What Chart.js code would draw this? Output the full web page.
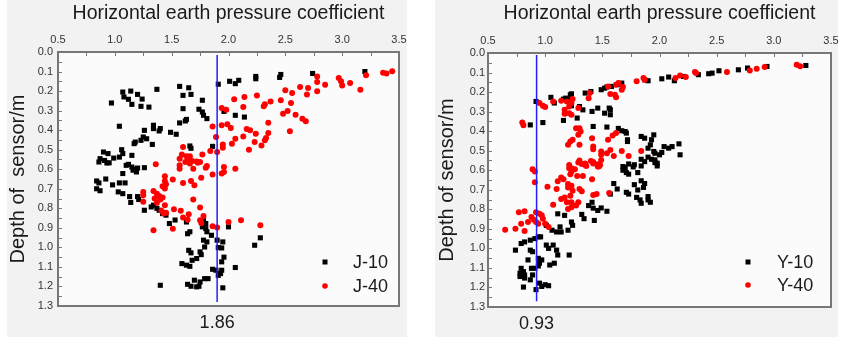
<!DOCTYPE html>
<html>
<head>
<meta charset="utf-8">
<title>Horizontal earth pressure coefficient</title>
<script src="https://cdn.jsdelivr.net/npm/chart.js@4.4.1/dist/chart.umd.min.js"></script>
<style>
  body { margin: 0; background: #fff; width: 850px; height: 337px; position: relative; overflow: hidden; }
  .panel { position: absolute; top: 0; height: 337px; background: #f2f2f2; }
  canvas { position: absolute; top: 0; }
</style>
</head>
<body>
<div class="panel" style="left:7px;width:400px"></div>
<div class="panel" style="left:435px;width:403px"></div>
<canvas id="chartJ" width="425" height="337" style="left:0"></canvas>
<canvas id="chartY" width="425" height="337" style="left:425px"></canvas>
<script>
// axis ticks
const coefTicks = [0.5, 1.0, 1.5, 2.0, 2.5, 3.0, 3.5];
const coefLabels = ["0.5", "1.0", "1.5", "2.0", "2.5", "3.0", "3.5"];
const depthTicks = [0.0, 0.1, 0.2, 0.3, 0.4, 0.5, 0.6, 0.7, 0.8, 0.9, 1.0, 1.1, 1.2, 1.3];
const depthLabels = ["0.0", "0.1", "0.2", "0.3", "0.4", "0.5", "0.6", "0.7", "0.8", "0.9", "1.0", "1.1", "1.2", "1.3"];

// [coefficient, depth]
const j10 = [
  [3.20,0.10],[2.74,0.11],[2.46,0.115],[2.45,0.13],[2.24,0.125],[2.24,0.137],[2.09,0.145],[2.06,0.162],[2.01,0.15],
  [1.91,0.165],[1.57,0.176],[1.65,0.183],[1.60,0.222],[1.67,0.217],[1.37,0.191],[1.07,0.205],[1.14,0.20],[1.20,0.217],
  [1.08,0.23],[1.12,0.242],[1.15,0.268],[1.24,0.241],[1.23,0.278],[1.30,0.282],[0.97,0.261],[1.77,0.247],[1.60,0.29],
  [1.74,0.293],[1.77,0.307],[1.78,0.324],[1.81,0.341],[1.63,0.345],[1.62,0.353],[1.57,0.363],[1.96,0.304],[2.06,0.324],
  [2.14,0.333],[1.04,0.38],[1.34,0.375],[1.34,0.392],[1.39,0.404],[1.40,0.392],[1.26,0.401],[1.25,0.435],[1.23,0.452],
  [1.18,0.461],[1.17,0.469],[1.28,0.444],[1.33,0.473],[1.49,0.411],[1.54,0.421],[1.66,0.481],[1.67,0.493],[1.86,0.483],
  [0.90,0.512],[0.94,0.52],[1.06,0.50],[1.07,0.52],[1.04,0.538],[1.15,0.529],[0.87,0.546],[0.91,0.555],[0.95,0.567],
  [0.99,0.543],[1.12,0.575],[1.15,0.589],[1.18,0.601],[1.20,0.594],[0.86,0.563],[0.93,0.568],[1.10,0.58],[1.16,0.605],
  [1.19,0.614],[1.26,0.592],[1.07,0.622],[0.84,0.66],[0.86,0.67],[0.92,0.65],[0.84,0.70],[0.87,0.71],[0.98,0.68],
  [1.04,0.67],[1.09,0.67],[1.03,0.716],[1.07,0.725],[1.13,0.74],[1.14,0.77],[1.20,0.74],[1.21,0.755],[1.26,0.81],
  [1.32,0.793],[1.34,0.784],[1.37,0.80],[1.39,0.81],[1.42,0.827],[1.45,0.835],[1.48,0.878],[1.53,0.86],[1.63,0.87],
  [1.66,0.92],[1.64,0.93],[1.78,0.861],[1.80,0.878],[1.77,0.895],[1.80,0.904],[1.81,0.92],[1.78,0.963],[1.81,0.972],
  [1.79,0.998],[1.85,0.938],[1.90,0.963],[1.91,1.001],[1.95,0.972],[1.94,1.003],[1.65,1.015],[1.67,1.028],[1.75,1.023],
  [1.76,1.037],[1.72,1.057],[1.68,1.066],[1.63,1.091],[1.66,1.097],[1.59,1.083],[1.96,1.05],[1.94,1.074],[1.86,1.112],
  [1.89,1.117],[1.94,1.117],[1.91,1.143],[1.93,1.134],[1.79,1.16],[1.82,1.16],[1.75,1.177],[1.70,1.168],[1.64,1.189],
  [1.67,1.199],[1.72,1.202],[1.74,1.199],[1.40,1.194],[1.95,1.207],[2.00,0.895],[2.06,1.103],[2.28,0.951],[2.23,0.989]
];
const j40 = [
  [3.44,0.099],[3.39,0.11],[3.36,0.106],[3.21,0.119],[3.16,0.193],[3.07,0.159],[2.97,0.133],[2.99,0.15],[3.00,0.171],
  [2.85,0.167],[2.78,0.125],[2.78,0.154],[2.78,0.201],[2.70,0.184],[2.69,0.217],[2.63,0.179],[2.56,0.21],[2.50,0.196],
  [2.55,0.261],[2.46,0.247],[2.37,0.253],[2.32,0.268],[2.31,0.278],[2.25,0.222],[2.48,0.316],[2.52,0.302],[2.59,0.321],
  [2.65,0.341],[2.68,0.355],[2.54,0.406],[2.35,0.362],[2.14,0.23],[2.05,0.242],[2.13,0.282],[1.94,0.287],[1.98,0.295],
  [1.94,0.375],[1.99,0.37],[2.02,0.389],[1.86,0.381],[2.16,0.394],[2.19,0.401],[2.06,0.444],[2.03,0.469],[2.13,0.432],
  [2.24,0.418],[2.23,0.461],[2.29,0.478],[2.32,0.452],[2.33,0.44],[2.35,0.415],[2.18,0.50],[1.89,0.435],[1.95,0.473],
  [1.95,0.49],[1.90,0.512],[1.84,0.507],[1.77,0.524],[1.60,0.486],[1.59,0.524],[1.57,0.546],[1.63,0.534],[1.65,0.546],
  [1.66,0.534],[1.68,0.558],[1.73,0.567],[1.75,0.563],[1.81,0.584],[1.57,0.58],[1.36,0.575],[1.96,0.589],[2.06,0.597],
  [1.62,0.563],[1.66,0.571],[1.69,0.597],[1.72,0.56],[1.57,0.597],[1.80,0.592],[1.86,0.627],[1.94,0.622],[1.96,0.614],
  [1.76,0.644],[1.67,0.66],[1.60,0.67],[1.70,0.682],[1.44,0.636],[1.51,0.653],[1.44,0.66],[1.42,0.687],[1.44,0.699],
  [1.45,0.677],[1.25,0.716],[1.25,0.733],[1.34,0.711],[1.37,0.725],[1.39,0.737],[1.35,0.75],[1.37,0.771],[1.40,0.755],
  [1.42,0.745],[1.25,0.767],[1.69,0.755],[1.44,0.784],[1.41,0.813],[1.43,0.827],[1.45,0.823],[1.52,0.805],[1.58,0.813],
  [1.65,0.83],[1.75,0.796],[1.60,0.847],[1.64,0.858],[1.51,0.904],[1.34,0.912],[1.75,0.861],[1.76,0.875],[1.78,0.84],
  [1.86,0.892],[1.90,0.898],[2.00,0.87],[2.11,0.861],[2.28,0.887]
];
const y10 = [
  [3.28,0.064],[2.94,0.069],[2.77,0.077],[2.69,0.086],[2.52,0.091],[2.46,0.103],[2.43,0.106],[2.34,0.111],[2.21,0.12],
  [2.13,0.142],[2.08,0.123],[2.02,0.132],[1.90,0.142],[1.87,0.137],[1.67,0.154],[1.63,0.162],[1.58,0.171],[1.54,0.174],
  [1.49,0.188],[1.52,0.18],[1.40,0.197],[1.35,0.205],[1.22,0.214],[1.23,0.209],[1.20,0.239],[1.18,0.231],[1.16,0.236],
  [1.05,0.227],[1.08,0.256],[0.92,0.248],[1.23,0.27],[1.30,0.274],[1.33,0.291],[1.41,0.299],[1.46,0.282],[1.52,0.308],
  [1.57,0.316],[1.57,0.29],[1.56,0.282],[1.28,0.333],[1.16,0.345],[0.98,0.356],[0.87,0.368],[1.42,0.376],[1.54,0.379],
  [1.64,0.386],[1.67,0.398],[1.70,0.402],[1.71,0.41],[1.72,0.444],[1.72,0.453],[1.84,0.427],[1.87,0.436],[1.95,0.419],
  [1.93,0.444],[1.90,0.487],[1.92,0.47],[2.04,0.479],[2.08,0.487],[2.11,0.479],[2.17,0.465],[2.18,0.521],[2.02,0.509],
  [2.00,0.521],[1.96,0.513],[1.90,0.533],[1.93,0.544],[1.96,0.547],[1.98,0.564],[1.84,0.544],[1.87,0.556],[1.95,0.504],
  [1.73,0.568],[1.68,0.581],[1.78,0.572],[1.96,0.561],[1.98,0.578],[1.70,0.586],[1.71,0.612],[1.68,0.60],[1.73,0.62],
  [1.77,0.583],[1.81,0.612],[1.84,0.578],[1.84,0.654],[1.87,0.668],[1.86,0.688],[1.78,0.674],[1.81,0.701],[1.71,0.713],
  [1.73,0.722],[1.80,0.739],[1.83,0.752],[1.84,0.769],[1.90,0.735],[1.92,0.764],[1.90,0.752],[1.60,0.668],[1.63,0.696],
  [1.57,0.722],[1.38,0.781],[1.42,0.794],[1.46,0.806],[1.49,0.793],[1.54,0.81],[1.41,0.764],[1.32,0.826],[1.34,0.848],
  [1.43,0.857],[1.23,0.865],[1.24,0.882],[1.20,0.907],[1.11,0.823],[1.17,0.831],[1.13,0.89],[1.14,0.916],[1.10,0.916],
  [1.06,0.907],[1.01,0.882],[0.96,0.941],[0.87,0.958],[0.91,0.95],[0.82,0.967],[0.79,0.975],[0.94,0.941],[0.74,1.009],
  [0.87,1.009],[0.89,1.017],[1.01,0.983],[1.03,1.0],[1.07,0.983],[1.10,1.009],[1.11,1.034],[1.21,1.034],[0.85,1.059],
  [0.94,1.051],[0.97,1.059],[0.95,1.076],[0.94,1.09],[1.04,1.085],[1.08,1.076],[0.79,1.102],[0.81,1.119],[0.78,1.127],
  [0.82,1.136],[0.88,1.102],[0.78,1.144],[0.82,1.152],[0.89,1.136],[0.87,1.161],[0.81,1.198],[0.95,1.178],[0.97,1.195],
  [1.00,1.186],[1.03,1.191],[0.92,1.211],[0.91,1.102]
];
const y40 = [
  [3.20,0.06],[3.23,0.068],[2.92,0.072],[2.85,0.08],[2.79,0.089],[2.59,0.097],[2.32,0.103],[2.31,0.097],[2.23,0.123],
  [2.18,0.115],[2.14,0.128],[1.87,0.137],[1.86,0.128],[1.80,0.145],[1.64,0.154],[1.68,0.174],[1.67,0.188],[1.62,0.162],
  [1.61,0.214],[1.62,0.226],[1.57,0.21],[1.55,0.171],[1.38,0.231],[1.39,0.205],[1.24,0.236],[1.23,0.256],[1.19,0.248],
  [1.14,0.244],[0.95,0.256],[0.98,0.27],[1.00,0.277],[1.07,0.248],[1.21,0.274],[1.21,0.308],[1.17,0.291],[1.17,0.311],
  [1.23,0.316],[1.29,0.282],[1.27,0.385],[1.30,0.385],[1.29,0.419],[1.31,0.402],[1.41,0.436],[1.42,0.479],[1.42,0.492],
  [1.22,0.453],[1.20,0.47],[1.24,0.444],[1.30,0.47],[1.55,0.444],[1.59,0.422],[1.62,0.41],[1.54,0.513],[1.57,0.496],
  [1.49,0.504],[1.49,0.521],[1.49,0.547],[1.67,0.501],[1.84,0.501],[1.73,0.527],[1.60,0.527],[0.80,0.356],[0.81,0.37],
  [1.30,0.55],[1.32,0.568],[1.35,0.573],[1.40,0.553],[1.42,0.565],[1.46,0.581],[1.48,0.573],[1.21,0.573],[1.23,0.59],
  [0.89,0.595],[1.29,0.561],[1.35,0.566],[1.36,0.578],[1.42,0.558],[1.46,0.57],[1.47,0.581],[1.21,0.59],[1.23,0.607],
  [1.22,0.62],[1.26,0.595],[1.28,0.629],[1.33,0.629],[1.41,0.646],[1.14,0.637],[1.16,0.646],[1.11,0.657],[1.10,0.696],
  [1.02,0.684],[1.20,0.671],[1.23,0.679],[1.20,0.688],[1.24,0.705],[1.30,0.696],[1.32,0.708],[1.42,0.727],[1.45,0.722],
  [1.56,0.717],[1.14,0.747],[1.17,0.739],[1.22,0.73],[1.23,0.764],[1.27,0.781],[1.29,0.764],[1.19,0.764],[1.07,0.777],
  [0.91,0.607],[0.91,0.662],[1.20,0.798],[1.23,0.789],[0.77,0.815],[0.82,0.81],[0.92,0.815],[0.95,0.823],[0.97,0.831],
  [0.98,0.848],[0.88,0.84],[0.90,0.853],[0.94,0.874],[0.92,0.865],[0.85,0.865],[0.79,0.874],[1.00,0.874],[1.03,0.891],
  [0.65,0.904],[0.74,0.899],[0.82,0.911]
];

// blue reference lines: [coefficient, depth from, depth to]
const jRefLine = [1.9, 0.015, 1.28];
const yRefLine = [0.925, 0.01, 1.27];
const jRefLabel = "1.86";
const yRefLabel = "0.93";

const FONT = '"Liberation Sans", Arial, sans-serif';
Chart.defaults.font.family = FONT;

function buildTicks(values, labels) {
  const ticks = [];
  values.forEach((v, i) => {
    ticks.push({ value: v, lab: labels[i] });
    if (i < values.length - 1) ticks.push({ value: (v + values[i + 1]) / 2, lab: "" });
  });
  return ticks;
}

// plot area fill, frame, inward ticks
const framePlugin = {
  id: "frame",
  beforeDatasetsDraw(chart) {
    const { ctx, chartArea: a } = chart;
    ctx.save();
    ctx.fillStyle = "#fbfbfb";
    ctx.fillRect(a.left, a.top, a.right - a.left, a.bottom - a.top);
    ctx.restore();
  },
  afterDraw(chart) {
    const { ctx, chartArea: a, scales } = chart;
    ctx.save();
    ctx.strokeStyle = "#777";
    ctx.lineWidth = 1;
    ctx.beginPath();
    scales.x.ticks.forEach(t => {
      const px = Math.round(scales.x.getPixelForValue(t.value)) + 0.5;
      ctx.moveTo(px, a.top);
      ctx.lineTo(px, a.top + 4);
    });
    scales.y.ticks.forEach(t => {
      const py = Math.round(scales.y.getPixelForValue(t.value)) + 0.5;
      ctx.moveTo(a.left, py);
      ctx.lineTo(a.left + 4, py);
    });
    ctx.stroke();
    ctx.lineWidth = 2;
    ctx.strokeRect(a.left, a.top, a.right - a.left, a.bottom - a.top);
    ctx.restore();
  }
};

// legend inside the plot, bottom right
const pointLegend = {
  id: "pointLegend",
  afterDraw(chart, args, opts) {
    const { ctx, chartArea: a } = chart;
    const items = chart.data.datasets.filter(d => d.inLegend);
    ctx.save();
    ctx.font = "18px " + FONT;
    ctx.textBaseline = "middle";
    ctx.textAlign = "left";
    items.forEach((d, i) => {
      const mx = a.right + opts.markerDx;
      const my = a.bottom + opts.dy[i];
      ctx.fillStyle = d.backgroundColor;
      if (d.pointStyle === "rect") {
        ctx.fillRect(mx - 2.5, my - 2.5, 5, 5);
      } else {
        ctx.beginPath();
        ctx.arc(mx, my, 2.8, 0, Math.PI * 2);
        ctx.fill();
      }
      ctx.fillStyle = "#1a1a1a";
      ctx.fillText(d.label, a.right + opts.textDx, my + 1);
    });
    ctx.restore();
  }
};

function makeChart(canvasId, cfg) {
  const ctx = document.getElementById(canvasId).getContext("2d");
  return new Chart(ctx, {
    type: "scatter",
    data: {
      datasets: [
        {
          label: cfg.names[0], data: cfg.black, inLegend: true, order: 2,
          pointStyle: "rect", pointRadius: 3.6, backgroundColor: "#000", borderColor: "#000", borderWidth: 0
        },
        {
          label: cfg.names[1], data: cfg.red, inLegend: true, order: 1,
          pointStyle: "circle", pointRadius: 3, backgroundColor: "#f00", borderColor: "#f00", borderWidth: 0
        },
        {
          type: "line", label: "ref", order: 0,
          data: [{ x: cfg.ref[0], y: cfg.ref[1] }, { x: cfg.ref[0], y: cfg.ref[2] }],
          borderColor: "#2020ff", borderWidth: 1.5, pointRadius: 0, showLine: true
        }
      ]
    },
    options: {
      responsive: false,
      animation: false,
      devicePixelRatio: 1,
      layout: { padding: { left: 0, right: cfg.padRight, top: 0, bottom: 0 } },
      plugins: {
        legend: { display: false },
        tooltip: { enabled: false },
        pointLegend: cfg.legend
      },
      scales: {
        x: {
          type: "linear", position: "top", min: 0.5, max: 3.5,
          afterBuildTicks: s => { s.ticks = buildTicks(coefTicks, coefLabels); },
          afterFit: s => { s.height = cfg.top; },
          grid: { display: false, drawTicks: false },
          border: { display: false },
          ticks: {
            autoSkip: false, maxRotation: 0, padding: 5, color: "#333",
            font: { size: 11 },
            callback: (v, i, ticks) => ticks[i].lab
          },
          title: {
            display: true, text: "Horizontal earth pressure coefficient",
            color: "#1a1a1a", font: { size: 19.5 }, padding: { top: 2, bottom: 0 }
          }
        },
        x2: {
          type: "linear", axis: "x", position: "bottom", min: 0.5, max: 3.5,
          afterBuildTicks: s => { s.ticks = [{ value: cfg.ref[0], lab: cfg.refLabel }]; },
          afterFit: s => { s.height = cfg.bottom; },
          grid: { display: false, drawTicks: false },
          border: { display: false },
          ticks: {
            autoSkip: false, maxRotation: 0, padding: 6, color: "#1a1a1a",
            font: { size: 18 },
            callback: (v, i, ticks) => ticks[i].lab
          }
        },
        y: {
          type: "linear", position: "left", reverse: true, min: 0, max: 1.3,
          afterBuildTicks: s => { s.ticks = buildTicks(depthTicks, depthLabels); },
          afterFit: s => { s.width = cfg.left; },
          grid: { display: false, drawTicks: false },
          border: { display: false },
          ticks: {
            autoSkip: false, padding: cfg.yTickPad, color: "#333",
            font: { size: 11 },
            callback: (v, i, ticks) => ticks[i].lab
          },
          title: {
            display: true, text: cfg.yTitle,
            color: "#1a1a1a", font: { size: 20 }, padding: { top: cfg.yTitlePad, bottom: 0 }
          }
        }
      }
    },
    plugins: [framePlugin, pointLegend]
  });
}

makeChart("chartJ", {
  names: ["J-10", "J-40"], black: j10, red: j40,
  ref: jRefLine, refLabel: jRefLabel,
  yTitle: "Depth of  sensor/m",
  left: 58, top: 52, bottom: 31, padRight: 26, yTickPad: 5, yTitlePad: 6,
  legend: { markerDx: -74, textDx: -46, dy: [-44, -20] }
});

makeChart("chartY", {
  names: ["Y-10", "Y-40"], black: y10, red: y40,
  ref: yRefLine, refLabel: yRefLabel,
  yTitle: "Depth of sensor/m",
  left: 63, top: 53, bottom: 30, padRight: 19, yTickPad: 3, yTitlePad: 10,
  legend: { markerDx: -83, textDx: -54, dy: [-45, -22] }
});
</script>
</body>
</html>
